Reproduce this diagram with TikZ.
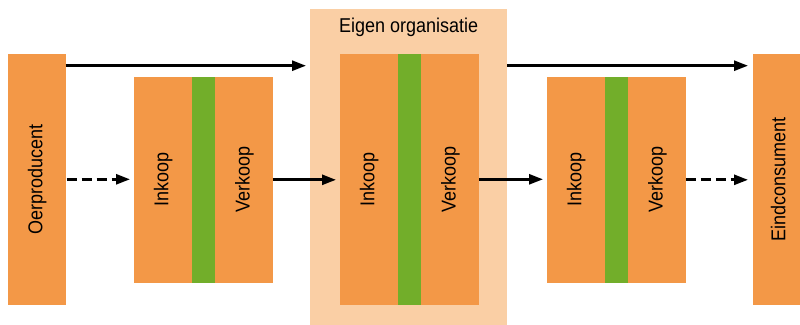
\documentclass[tikz,border=0pt]{standalone}
\usepackage{fontspec}
\setmainfont{Liberation Sans}[FakeStretch=0.9]
\usetikzlibrary{arrows.meta}
\definecolor{boxorange}{HTML}{F39847}
\definecolor{bandgreen}{HTML}{72AE2A}
\definecolor{orgpeach}{HTML}{FACFA5}

\begin{document}
\begin{tikzpicture}[x=1pt,y=-1pt,
  block/.style={fill=boxorange, draw=boxorange, line width=0.6pt, inner sep=0pt,
                minimum width=57pt, anchor=north west},
  tall/.style={block, minimum height=250pt},
  short/.style={block, minimum height=205pt},
  band/.style={fill=bandgreen, draw=bandgreen, line width=0.6pt, inner sep=0pt,
               minimum width=23pt, anchor=north west},
  labelfont/.style={font=\fontsize{20}{24}\selectfont},
  vlabel/.style={labelfont, rotate=90, inner sep=0pt, text height=14pt, text depth=3pt},
  flow/.style={line width=2.7pt, -{Triangle[length=14pt,width=10pt]}},
  weakflow/.style={flow, dash pattern=on 10pt off 5pt},
]
\path[use as bounding box, clip] (0,0) rectangle (800,324);

% own organisation backdrop
\node[fill=orgpeach, inner sep=0pt, minimum width=197pt, minimum height=316pt,
      anchor=north west] (org) at (310,9) {};
\node[labelfont, anchor=base, inner sep=0pt] (title)
      at ([yshift=-23.3pt]org.north) {Eigen organisatie};

% producer and consumer
\node[tall] (oer) at (8,54) {};
\node[tall, minimum width=53pt] (eind) at (753,54) {};

% supplier
\node[short] (in1) at (134,77) {};
\node[band, minimum height=205pt] (mid1) at (in1.north east) {};
\node[short] (out1) at (mid1.north east) {};

% own organisation
\node[tall] (in2) at (340,54) {};
\node[band, minimum height=250pt] (mid2) at (in2.north east) {};
\node[tall] (out2) at (mid2.north east) {};

% customer
\node[short] (in3) at (547,77) {};
\node[band, minimum height=205pt] (mid3) at (in3.north east) {};
\node[short] (out3) at (mid3.north east) {};

% vertical labels
\node[vlabel] (oerlbl) at (oer.center) {Oerproducent};
\node[vlabel] (eindlbl) at (eind.center) {Eindconsument};
\node[vlabel] (in1lbl) at (in1.center) {Inkoop};
\node[vlabel] (out1lbl) at (out1.center) {Verkoop};
\node[vlabel] (in2lbl) at (in2.center) {Inkoop};
\node[vlabel] (out2lbl) at (out2.center) {Verkoop};
\node[vlabel] (in3lbl) at (in3.center) {Inkoop};
\node[vlabel] (out3lbl) at (out3.center) {Verkoop};

% direct flow along the top
\coordinate (toprow) at ([yshift=-11.7pt]oer.north east);
\draw[flow, shorten >=4pt] (toprow) -- (toprow -| org.west);
\draw[flow, shorten >=5pt] (toprow -| org.east) -- (toprow -| eind.west);

% chain flow through the middle
\draw[weakflow, shorten <=1pt, shorten >=4pt] (oer.east) -- (oer.east -| in1.west);
\draw[flow, shorten >=4pt] (out1.east) -- (out1.east -| in2.west);
\draw[flow, shorten >=4pt] (out2.east) -- (out2.east -| in3.west);
\draw[weakflow, shorten >=5pt] (out3.east) -- (out3.east -| eind.west);
\end{tikzpicture}
\end{document}
